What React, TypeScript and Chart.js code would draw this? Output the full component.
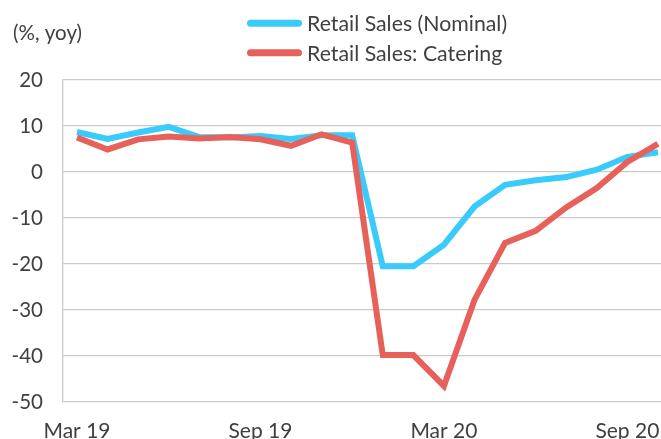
import React, { useEffect, useRef } from 'react';
import { Chart, registerables } from 'chart.js';

Chart.register(...registerables);

const months = [
  'Mar 19', 'Apr 19', 'May 19', 'Jun 19', 'Jul 19', 'Aug 19', 'Sep 19', 'Oct 19', 'Nov 19', 'Dec 19',
  'Jan 20', 'Feb 20', 'Mar 20', 'Apr 20', 'May 20', 'Jun 20', 'Jul 20', 'Aug 20', 'Sep 20', 'Oct 20',
];
const retailNominal = [8.7, 7.2, 8.6, 9.8, 7.6, 7.5, 7.8, 7.2, 8.0, 8.0, -20.5, -20.5, -15.8, -7.5, -2.8, -1.8, -1.1, 0.5, 3.3, 4.3];
const retailCatering = [7.5, 4.9, 7.1, 7.7, 7.3, 7.6, 7.1, 5.7, 8.2, 6.4, -39.8, -39.8, -46.5, -27.8, -15.4, -12.8, -7.7, -3.5, 2.2, 6.1];
const xTickLabels = ['Mar 19', 'Sep 19', 'Mar 20', 'Sep 20'];
const yMin = -50;
const yMax = 20;
const yStep = 10;
const unitLabel = '(%, yoy)';
const seriesNames = ['Retail Sales (Nominal)', 'Retail Sales: Catering'];

const FONT = 'Lato';
const TEXT = '#404040';
const GRID = '#c9c9c9';

const legendPlugin = {
  id: 'customLegend',
  afterDraw(chart: any) {
    const ctx = chart.ctx;
    ctx.save();
    ctx.fillStyle = TEXT;
    ctx.textBaseline = 'alphabetic';
    ctx.textAlign = 'left';
    ctx.font = `20.5px ${FONT}`;
    ctx.fillText(unitLabel, 13, 40);
    ctx.font = `21.3px ${FONT}`;
    chart.data.datasets.forEach((ds: any, i: number) => {
      const y = 23.3 + i * 29.4;
      ctx.strokeStyle = ds.borderColor;
      ctx.lineWidth = 7;
      ctx.lineCap = 'round';
      ctx.beginPath();
      ctx.moveTo(250.5, y);
      ctx.lineTo(298.5, y);
      ctx.stroke();
      ctx.fillText(ds.label, 307, y + 8);
    });
    ctx.restore();
  },
};

export default function App() {
  const ref = useRef<HTMLCanvasElement | null>(null);

  useEffect(() => {
    if (!ref.current) return;
    const toPoints = (arr: number[]) => arr.map((v, i) => ({ x: i, y: v }));
    const chart = new Chart(ref.current, {
      type: 'line',
      data: {
        datasets: [
          {
            label: seriesNames[0],
            data: toPoints(retailNominal),
            borderColor: '#38cbfb',
            backgroundColor: '#38cbfb',
            borderWidth: 6,
            pointRadius: 0,
            tension: 0,
            order: 1,
          },
          {
            label: seriesNames[1],
            data: toPoints(retailCatering),
            borderColor: '#e8605a',
            backgroundColor: '#e8605a',
            borderWidth: 6,
            pointRadius: 0,
            tension: 0,
            order: 0,
          },
        ],
      },
      options: {
        animation: false,
        responsive: false,
        maintainAspectRatio: false,
        layout: { padding: { top: 80, left: 0, right: 0, bottom: 0 } },
        plugins: {
          legend: { display: false },
          tooltip: { enabled: false },
        },
        scales: {
          x: {
            type: 'linear',
            min: -0.458,
            max: 19.1,
            grid: { display: false, drawTicks: false },
            border: { display: false },
            afterBuildTicks: (scale: any) => {
              scale.ticks = xTickLabels.map((l) => ({ value: months.indexOf(l) }));
            },
            afterFit: (scale: any) => {
              scale.height = 37;
              scale.paddingLeft = 0;
              scale.paddingRight = 0;
            },
            ticks: {
              autoSkip: false,
              maxRotation: 0,
              padding: 17,
              color: TEXT,
              font: { family: FONT, size: 21 },
              callback: (v: any) => months[v as number],
            },
          },
          y: {
            min: yMin,
            max: yMax,
            grid: { color: GRID, lineWidth: 1.3, drawTicks: false },
            border: { display: true, color: GRID, width: 1.3 },
            afterFit: (scale: any) => {
              scale.width = 63;
            },
            ticks: {
              stepSize: yStep,
              padding: 20,
              color: TEXT,
              font: { family: FONT, size: 20.5 },
            },
          },
        },
      },
      plugins: [legendPlugin],
    } as any);
    return () => chart.destroy();
  }, []);

  return (
    <div style={{ position: 'fixed', left: 0, top: 0, width: 661, height: 439, background: '#fff' }}>
      <canvas ref={ref} width={661} height={439} style={{ display: 'block' }} />
    </div>
  );
}
